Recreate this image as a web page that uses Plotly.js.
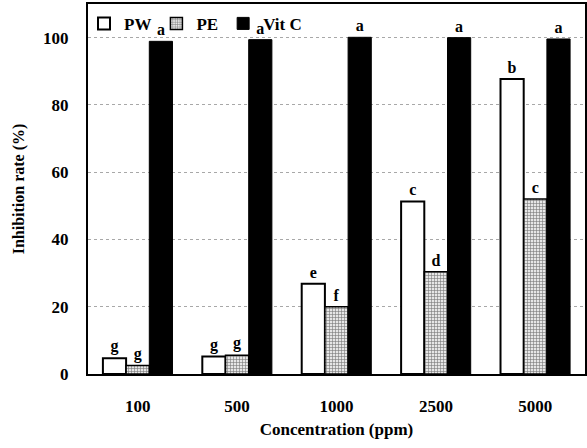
<!DOCTYPE html>
<html><head><meta charset="utf-8">
<script src="https://cdn.plot.ly/plotly-3.0.1.min.js"></script>
<style>html,body{margin:0;padding:0;background:#fff}#c{width:587px;height:448px}</style>
</head><body><div id="c"></div>
<script>
const categories = ["100", "500", "1000", "2500", "5000"];
const pw = [4.7, 5.2, 26.8, 51.3, 87.7];
const pe = [2.5, 5.6, 20.0, 30.4, 52.0];
const vitc = [98.9, 99.4, 100.1, 100.0, 99.6];
const pwLetters = ["g", "g", "e", "c", "b"];
const peLetters = ["g", "g", "f", "d", "c"];
const vitcLetters = ["a", "a", "a", "a", "a"];

const F = "Liberation Serif, Times New Roman, serif";
const tf = {family: F, size: 17, color: "#000", weight: "bold"};
const lf = {family: F, size: 16, color: "#000", weight: "bold"};
const common = {type: "bar", x: categories, textposition: "outside", cliponaxis: false, textfont: lf};

const traces = [
  Object.assign({}, common, {name: "PW", y: pw, text: pwLetters,
    marker: {color: "#fff", line: {color: "#000", width: 2}}}),
  Object.assign({}, common, {name: "PE", y: pe, text: peLetters,
    marker: {color: "#c8c8c8", line: {color: "#000", width: 1.5},
      pattern: {shape: "+", size: 3, solidity: 0.35, fgcolor: "#777", bgcolor: "#e6e6e6"}}}),
  Object.assign({}, common, {name: "Vit C", y: vitc, text: vitcLetters,
    marker: {color: "#000", line: {color: "#000", width: 1}}})
];

const layout = {
  width: 587, height: 448,
  margin: {l: 88, r: 2, t: 4, b: 74},
  paper_bgcolor: "#fff", plot_bgcolor: "#fff",
  barmode: "group", bargap: 0.3, bargroupgap: 0,
  font: {family: F, color: "#000"},
  showlegend: true,
  legend: {orientation: "h", x: -0.008, y: 0.995, xanchor: "left", yanchor: "top",
    font: {family: F, size: 17, color: "#000", weight: "bold"}, bgcolor: "rgba(0,0,0,0)",
    itemwidth: 30, tracegroupgap: 0},
  xaxis: {type: "category", showline: true, mirror: true, linecolor: "#000", linewidth: 2,
    ticks: "", tickfont: tf, ticklabelstandoff: 16,
    title: {text: "Concentration (ppm)", font: {family: F, size: 17, color: "#000", weight: "bold"}, standoff: 8}},
  yaxis: {range: [0, 110], showline: true, mirror: true, linecolor: "#000", linewidth: 2,
    tickvals: [0, 20, 40, 60, 80, 100], ticks: "", tickfont: tf, ticklabelstandoff: 14,
    showgrid: true, gridcolor: "#a8a8a8", griddash: "dot", gridwidth: 1, zeroline: false,
    title: {text: "Inhibition rate (%)", font: {family: F, size: 16, color: "#000", weight: "bold"}, standoff: 14}}
};

Plotly.newPlot("c", traces, layout, {displayModeBar: false, staticPlot: true});
</script></body></html>
